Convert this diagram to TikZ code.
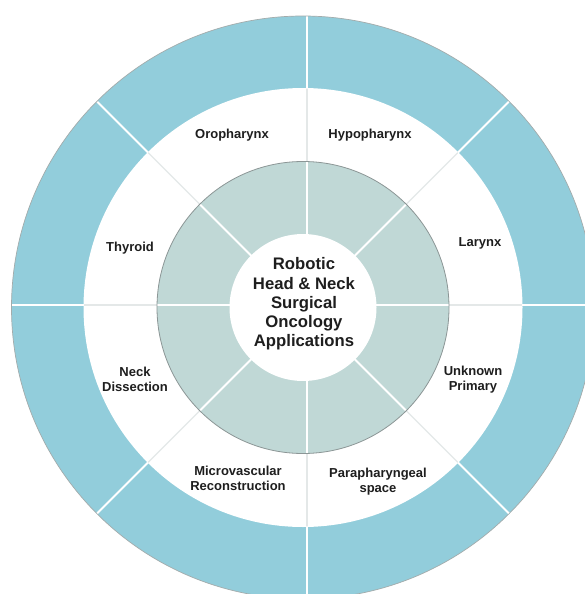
\documentclass[tikz,border=0pt]{standalone}
\usepackage{fontspec}
\setmainfont{Liberation Sans}
\usetikzlibrary{calc}
\definecolor{ringblue}{HTML}{92CDDB}
\definecolor{ringgray}{HTML}{C0D8D6}
\definecolor{edgegray}{HTML}{8C9696}
\definecolor{faint}{HTML}{E4E8E8}
\definecolor{txt}{HTML}{1E1E1E}
\tikzset{
  wline/.style={white, line width=1.8pt},
  fline/.style={faint, line width=1.1pt},
  lbl/.style={font=\fontsize{13}{15}\selectfont\bfseries, text=txt, align=center, inner sep=0pt},
  ctr/.style={font=\fontsize{16.7}{19.3}\selectfont\bfseries, text=txt, align=center, inner sep=0pt}
}
\begin{document}
\begin{tikzpicture}[x=1pt,y=-1pt]
\useasboundingbox (0,0) rectangle (585,594);
\clip (0,0) rectangle (585,594);
\fill[white] (0,0) rectangle (585,594);
\coordinate (c) at (303,307.5);
% outer blue ring
\fill[ringblue] (c) circle[radius=291.5];
\begin{scope}
  \clip (c) circle[radius=291.5];
  \draw[wline] (307,0) -- (307,620);
  \draw[wline] (0,305) -- (620,305);
  \foreach \a in {45,135} {
    \draw[wline] ($(c)+(\a:320)$) -- ($(c)+(\a+180:320)$);
  }
\end{scope}
\draw[edgegray!80, line width=0.7pt] (c) circle[radius=291.5];
% white ring
\fill[white] (c) circle[radius=219.5];
\begin{scope}
  \clip (c) circle[radius=219];
  \draw[fline] (307,0) -- (307,620);
  \draw[fline] (0,305) -- (620,305);
  \foreach \a in {45,135} {
    \draw[fline] ($(c)+(\a:320)$) -- ($(c)+(\a+180:320)$);
  }
\end{scope}
% gray ring
\fill[ringgray] (c) circle[radius=146];
\begin{scope}
  \clip (c) circle[radius=146];
  \draw[wline] (307,0) -- (307,620);
  \draw[wline] (0,305) -- (620,305);
  \foreach \a in {45,135} {
    \draw[wline] ($(c)+(\a:320)$) -- ($(c)+(\a+180:320)$);
  }
\end{scope}
\draw[edgegray, line width=0.8pt] (c) circle[radius=146];
% inner white disc
\fill[white] (c) circle[radius=73.5];
% texts
\node[ctr] (center) at (304,304) {Robotic\\Head \& Neck\\Surgical\\Oncology\\Applications};
\node[lbl] (oro) at (232,135) {Oropharynx};
\node[lbl] (hypo) at (370,135) {Hypopharynx};
\node[lbl] (lar) at (480,243) {Larynx};
\node[lbl] (thy) at (130,248) {Thyroid};
\node[lbl] (neck) at (135,379.5) {Neck\\Dissection};
\node[lbl] (unk) at (473,380) {Unknown\\Primary};
\node[lbl] (micro) at (238,478) {Microvascular\\Reconstruction};
\node[lbl] (para) at (378,482) {Parapharyngeal\\space};
\end{tikzpicture}
\end{document}
